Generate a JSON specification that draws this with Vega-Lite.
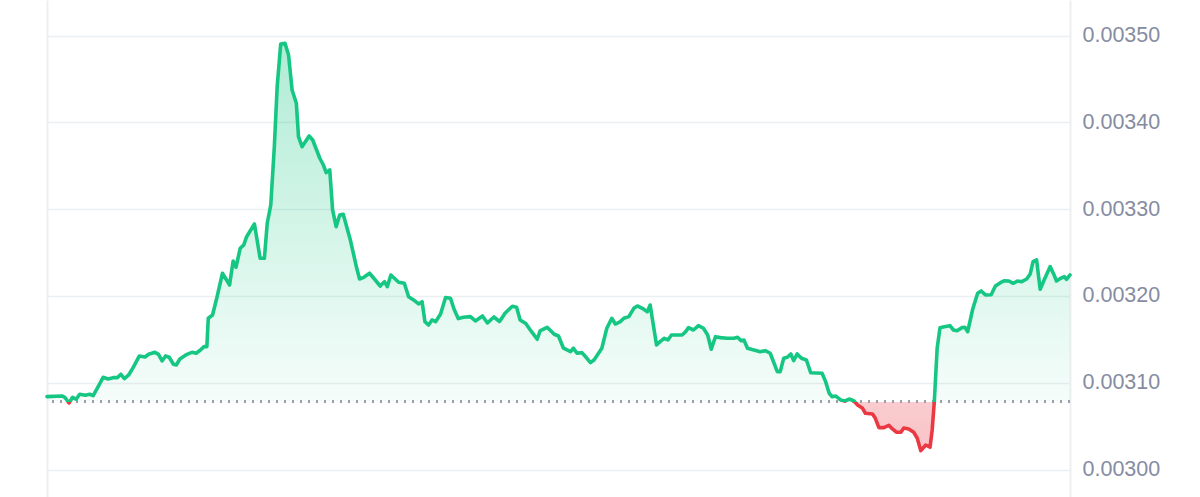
{
  "$schema": "https://vega.github.io/schema/vega-lite/v6.json",
  "width": 1023,
  "height": 497,
  "autosize": "none",
  "padding": {"left": 47, "top": 0, "right": 130, "bottom": 0},
  "background": "white",
  "config": {"view": {"stroke": null}},
  "data": {
    "values": [
      {"t": 0, "v": 0.0030840}, {"t": 21, "v": 0.0030848}, {"t": 25, "v": 0.0030833}, {"t": 31, "v": 0.0030767},
      {"t": 36, "v": 0.0030833}, {"t": 41, "v": 0.0030810}, {"t": 46, "v": 0.0030868}, {"t": 54, "v": 0.0030856},
      {"t": 60, "v": 0.0030868}, {"t": 65, "v": 0.0030851}, {"t": 72, "v": 0.0030955}, {"t": 79, "v": 0.0031063},
      {"t": 86, "v": 0.0031044}, {"t": 93, "v": 0.0031059}, {"t": 99, "v": 0.0031059}, {"t": 104, "v": 0.0031098},
      {"t": 109, "v": 0.0031047}, {"t": 115, "v": 0.0031090}, {"t": 122, "v": 0.0031186}, {"t": 130, "v": 0.0031309},
      {"t": 138, "v": 0.0031297}, {"t": 143, "v": 0.0031328}, {"t": 152, "v": 0.0031351}, {"t": 157, "v": 0.0031328},
      {"t": 162, "v": 0.0031251}, {"t": 167, "v": 0.0031309}, {"t": 172, "v": 0.0031294}, {"t": 178, "v": 0.0031213},
      {"t": 182, "v": 0.0031205}, {"t": 187, "v": 0.0031274}, {"t": 197, "v": 0.0031328}, {"t": 204, "v": 0.0031351},
      {"t": 210, "v": 0.0031340}, {"t": 216, "v": 0.0031378}, {"t": 221, "v": 0.0031416}, {"t": 225, "v": 0.0031416},
      {"t": 227, "v": 0.0031743}, {"t": 233, "v": 0.0031781}, {"t": 239, "v": 0.0031977}, {"t": 247, "v": 0.0032262},
      {"t": 257, "v": 0.0032127}, {"t": 262, "v": 0.0032403}, {"t": 266, "v": 0.0032331}, {"t": 272, "v": 0.0032550},
      {"t": 277, "v": 0.0032588}, {"t": 281, "v": 0.0032683}, {"t": 292, "v": 0.0032830}, {"t": 300, "v": 0.0032434},
      {"t": 306, "v": 0.0032434}, {"t": 310, "v": 0.0032838}, {"t": 315, "v": 0.0033049}, {"t": 320, "v": 0.0033720},
      {"t": 324, "v": 0.0034411}, {"t": 329, "v": 0.0034903}, {"t": 335, "v": 0.0034911}, {"t": 340, "v": 0.0034777},
      {"t": 345, "v": 0.0034373}, {"t": 351, "v": 0.0034220}, {"t": 354, "v": 0.0033835}, {"t": 359, "v": 0.0033720},
      {"t": 369, "v": 0.0033843}, {"t": 374, "v": 0.0033797}, {"t": 384, "v": 0.0033587}, {"t": 389, "v": 0.0033509},
      {"t": 393, "v": 0.0033421}, {"t": 398, "v": 0.0033452}, {"t": 402, "v": 0.0032991}, {"t": 407, "v": 0.0032799},
      {"t": 412, "v": 0.0032933}, {"t": 417, "v": 0.0032941}, {"t": 427, "v": 0.0032645}, {"t": 436, "v": 0.0032319},
      {"t": 440, "v": 0.0032196}, {"t": 445, "v": 0.0032211}, {"t": 454, "v": 0.0032262}, {"t": 460, "v": 0.0032204},
      {"t": 469, "v": 0.0032115}, {"t": 475, "v": 0.0032165}, {"t": 479, "v": 0.0032107}, {"t": 484, "v": 0.0032242},
      {"t": 495, "v": 0.0032158}, {"t": 503, "v": 0.0032146}, {"t": 509, "v": 0.0031992}, {"t": 516, "v": 0.0031954},
      {"t": 523, "v": 0.0031908}, {"t": 528, "v": 0.0031934}, {"t": 532, "v": 0.0031704}, {"t": 537, "v": 0.0031666},
      {"t": 542, "v": 0.0031724}, {"t": 547, "v": 0.0031704}, {"t": 554, "v": 0.0031793}, {"t": 561, "v": 0.0031983},
      {"t": 568, "v": 0.0031974}, {"t": 573, "v": 0.0031847}, {"t": 579, "v": 0.0031739}, {"t": 586, "v": 0.0031755},
      {"t": 596, "v": 0.0031762}, {"t": 603, "v": 0.0031712}, {"t": 613, "v": 0.0031770}, {"t": 620, "v": 0.0031689},
      {"t": 629, "v": 0.0031758}, {"t": 637, "v": 0.0031706}, {"t": 645, "v": 0.0031804}, {"t": 655, "v": 0.0031881},
      {"t": 661, "v": 0.0031870}, {"t": 666, "v": 0.0031724}, {"t": 674, "v": 0.0031683}, {"t": 681, "v": 0.0031600},
      {"t": 690, "v": 0.0031501}, {"t": 694, "v": 0.0031597}, {"t": 704, "v": 0.0031639}, {"t": 714, "v": 0.0031559},
      {"t": 720, "v": 0.0031539}, {"t": 727, "v": 0.0031398}, {"t": 737, "v": 0.0031358}, {"t": 741, "v": 0.0031398},
      {"t": 746, "v": 0.0031340}, {"t": 753, "v": 0.0031347}, {"t": 760, "v": 0.0031282}, {"t": 765, "v": 0.0031232},
      {"t": 770, "v": 0.0031263}, {"t": 781, "v": 0.0031398}, {"t": 788, "v": 0.0031628}, {"t": 795, "v": 0.0031743},
      {"t": 800, "v": 0.0031677}, {"t": 807, "v": 0.0031704}, {"t": 812, "v": 0.0031743}, {"t": 819, "v": 0.0031762},
      {"t": 826, "v": 0.0031858}, {"t": 831, "v": 0.0031885}, {"t": 838, "v": 0.0031858}, {"t": 845, "v": 0.0031819},
      {"t": 849, "v": 0.0031896}, {"t": 858, "v": 0.0031436}, {"t": 863, "v": 0.0031474}, {"t": 869, "v": 0.0031513},
      {"t": 874, "v": 0.0031493}, {"t": 879, "v": 0.0031551}, {"t": 894, "v": 0.0031551}, {"t": 899, "v": 0.0031589},
      {"t": 903, "v": 0.0031635}, {"t": 910, "v": 0.0031608}, {"t": 917, "v": 0.0031658}, {"t": 924, "v": 0.0031628},
      {"t": 930, "v": 0.0031551}, {"t": 935, "v": 0.0031386}, {"t": 941, "v": 0.0031531}, {"t": 948, "v": 0.0031520},
      {"t": 957, "v": 0.0031513}, {"t": 967, "v": 0.0031513}, {"t": 972, "v": 0.0031524}, {"t": 977, "v": 0.0031485},
      {"t": 981, "v": 0.0031493}, {"t": 986, "v": 0.0031398}, {"t": 995, "v": 0.0031378}, {"t": 1004, "v": 0.0031358},
      {"t": 1011, "v": 0.0031370}, {"t": 1018, "v": 0.0031340}, {"t": 1028, "v": 0.0031128}, {"t": 1032, "v": 0.0031128},
      {"t": 1037, "v": 0.0031282}, {"t": 1042, "v": 0.0031294}, {"t": 1047, "v": 0.0031332}, {"t": 1051, "v": 0.0031255},
      {"t": 1056, "v": 0.0031332}, {"t": 1062, "v": 0.0031282}, {"t": 1069, "v": 0.0031263}, {"t": 1075, "v": 0.0031116},
      {"t": 1091, "v": 0.0031110}, {"t": 1096, "v": 0.0031013}, {"t": 1101, "v": 0.0030879}, {"t": 1105, "v": 0.0030840},
      {"t": 1110, "v": 0.0030848}, {"t": 1117, "v": 0.0030802}, {"t": 1123, "v": 0.0030790}, {"t": 1130, "v": 0.0030813},
      {"t": 1136, "v": 0.0030790}, {"t": 1141, "v": 0.0030744}, {"t": 1148, "v": 0.0030706}, {"t": 1152, "v": 0.0030649},
      {"t": 1162, "v": 0.0030641}, {"t": 1166, "v": 0.0030591}, {"t": 1171, "v": 0.0030483}, {"t": 1178, "v": 0.0030483},
      {"t": 1185, "v": 0.0030510}, {"t": 1190, "v": 0.0030468}, {"t": 1196, "v": 0.0030430}, {"t": 1202, "v": 0.0030430},
      {"t": 1206, "v": 0.0030479}, {"t": 1213, "v": 0.0030468}, {"t": 1220, "v": 0.0030430}, {"t": 1225, "v": 0.0030361},
      {"t": 1230, "v": 0.0030218}, {"t": 1237, "v": 0.0030283}, {"t": 1243, "v": 0.0030257}, {"t": 1246, "v": 0.0030456},
      {"t": 1249, "v": 0.0030782}, {"t": 1253, "v": 0.0031398}, {"t": 1257, "v": 0.0031635}, {"t": 1263, "v": 0.0031646},
      {"t": 1271, "v": 0.0031658}, {"t": 1276, "v": 0.0031608}, {"t": 1281, "v": 0.0031600}, {"t": 1288, "v": 0.0031635},
      {"t": 1292, "v": 0.0031639}, {"t": 1296, "v": 0.0031589}, {"t": 1303, "v": 0.0031847}, {"t": 1310, "v": 0.0032031},
      {"t": 1315, "v": 0.0032058}, {"t": 1321, "v": 0.0032012}, {"t": 1329, "v": 0.0032015}, {"t": 1335, "v": 0.0032115},
      {"t": 1342, "v": 0.0032153}, {"t": 1348, "v": 0.0032176}, {"t": 1354, "v": 0.0032173}, {"t": 1360, "v": 0.0032146},
      {"t": 1366, "v": 0.0032173}, {"t": 1372, "v": 0.0032165}, {"t": 1379, "v": 0.0032196}, {"t": 1384, "v": 0.0032254},
      {"t": 1388, "v": 0.0032395}, {"t": 1393, "v": 0.0032415}, {"t": 1398, "v": 0.0032077}, {"t": 1404, "v": 0.0032192},
      {"t": 1412, "v": 0.0032338}, {"t": 1417, "v": 0.0032254}, {"t": 1421, "v": 0.0032173}, {"t": 1427, "v": 0.0032204},
      {"t": 1432, "v": 0.0032222}, {"t": 1435, "v": 0.0032192}, {"t": 1440, "v": 0.0032242}
    ]
  },
  "resolve": {"axis": {"y": "independent"}},
  "layer": [
    {
      "mark": {
        "type": "area",
        "fill": {
          "gradient": "linear",
          "x1": 0, "y1": 0, "x2": 0, "y2": 1,
          "stops": [
            {"offset": 0, "color": "rgba(22,199,132,0.34)"},
            {"offset": 0.8798, "color": "rgba(22,199,132,0.04)"},
            {"offset": 0.8798, "color": "rgba(234,57,67,0.26)"},
            {"offset": 1, "color": "rgba(234,57,67,0.3)"}
          ]
        }
      },
      "encoding": {
        "x": {"field": "t", "type": "quantitative", "axis": null, "scale": {"domain": [0, 1440], "nice": false, "zero": false}},
        "y": {
          "field": "v",
          "type": "quantitative",
          "scale": {"domain": [0.0029684, 0.003541], "nice": false, "zero": false},
          "axis": {
            "orient": "right",
            "title": null,
            "values": [0.003, 0.0031, 0.0032, 0.0033, 0.0034, 0.0035],
            "format": ".5f",
            "ticks": false,
            "domain": true,
            "domainColor": "#eceff2",
            "domainWidth": 2,
            "grid": true,
            "gridColor": "#eceff2",
            "gridWidth": 1.5,
            "labelPadding": 12,
            "labelFont": "Liberation Sans",
            "labelFontSize": 21.5,
            "labelColor": "#858ca2",
            "labelBaseline": "middle"
          }
        },
        "y2": {"datum": 0.0030782}
      }
    },
    {
      "mark": {"type": "rule", "color": "#9a9ea6", "strokeWidth": 2, "strokeDash": [2, 6]},
      "encoding": {"y": {"datum": 0.0030782, "type": "quantitative", "axis": null}}
    },
    {
      "mark": {
        "type": "line",
        "strokeWidth": 3.6,
        "strokeJoin": "round",
        "strokeCap": "round",
        "stroke": {
          "gradient": "linear",
          "x1": 0, "y1": 0, "x2": 0, "y2": 1,
          "stops": [
            {"offset": 0, "color": "#16c784"},
            {"offset": 0.8798, "color": "#16c784"},
            {"offset": 0.8798, "color": "#ea3943"},
            {"offset": 1, "color": "#ea3943"}
          ]
        }
      },
      "encoding": {
        "x": {"field": "t", "type": "quantitative", "axis": null},
        "y": {
          "field": "v",
          "type": "quantitative",
          "axis": {
            "orient": "left",
            "title": null,
            "labels": false,
            "ticks": false,
            "grid": false,
            "domain": true,
            "domainColor": "#eceff2",
            "domainWidth": 2
          }
        }
      }
    }
  ]
}
